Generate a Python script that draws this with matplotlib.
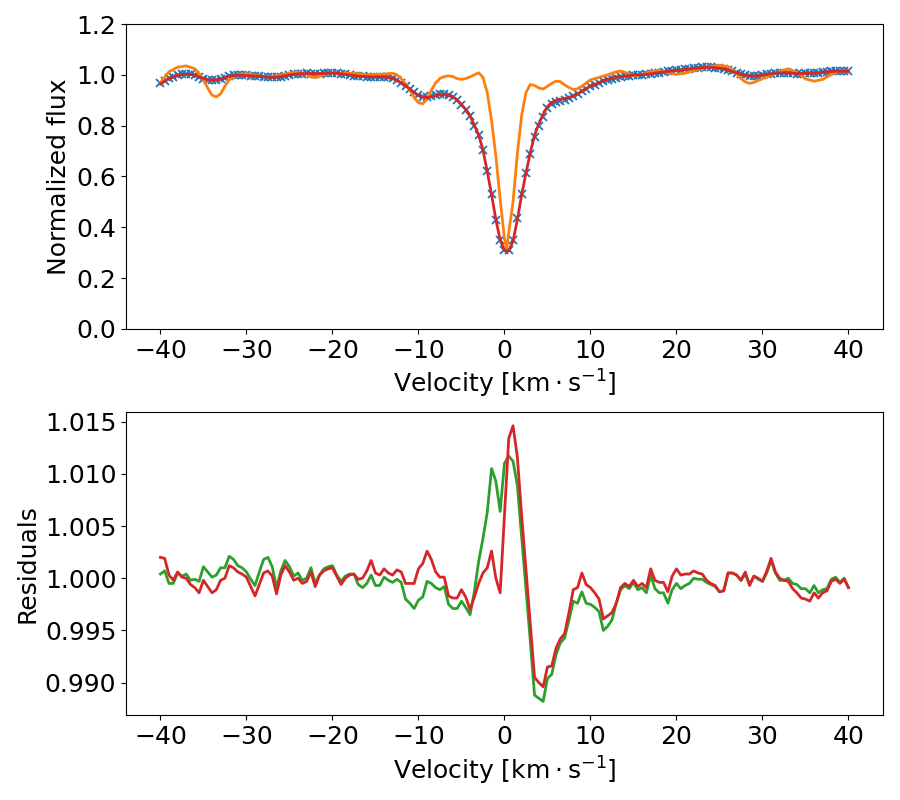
import numpy as np
import matplotlib
matplotlib.use("Agg")
import matplotlib.pyplot as plt

plt.rcParams['font.family'] = ['DejaVu Sans']
plt.rcParams['mathtext.fontset'] = 'dejavusans'
plt.rcParams['font.size'] = 18

# velocity grid, 0.5 km/s steps from -40 to 40
velocity = np.linspace(-40, 40, 161)

# observed profile (blue crosses), rows of 5 km/s
obs_flux = [
    0.966, 0.977, 0.986, 0.993, 0.998, 1.002, 1.004, 1.002, 0.998, 0.991,
    0.985, 0.980, 0.978, 0.979, 0.982, 0.989, 0.995, 0.998, 1.000, 0.999,
    0.998, 0.996, 0.995, 0.994, 0.993, 0.991, 0.990, 0.991, 0.993, 0.997,
    1.000, 1.003, 1.004, 1.005, 1.006, 1.005, 1.004, 1.005, 1.006, 1.007,
    1.008, 1.006, 1.004, 1.002, 1.000, 0.997, 0.995, 0.994, 0.993, 0.993,
    0.993, 0.993, 0.993, 0.990, 0.986, 0.978, 0.969, 0.957, 0.945, 0.931,
    0.919, 0.914, 0.912, 0.915, 0.920, 0.923, 0.923, 0.919, 0.913, 0.900,
    0.883, 0.862, 0.837, 0.800, 0.762, 0.705, 0.620, 0.530, 0.430, 0.350,
    0.310, 0.310, 0.350, 0.435, 0.530, 0.613, 0.690, 0.755, 0.800, 0.835,
    0.868, 0.885, 0.893, 0.898, 0.902, 0.908, 0.915, 0.925, 0.935, 0.945,
    0.954, 0.961, 0.968, 0.974, 0.980, 0.985, 0.989, 0.992, 0.995, 0.997,
    0.999, 1.000, 1.001, 1.002, 1.004, 1.007, 1.009, 1.011, 1.013, 1.015,
    1.017, 1.020, 1.022, 1.024, 1.026, 1.028, 1.029, 1.029, 1.029, 1.028,
    1.026, 1.023, 1.018, 1.013, 1.008, 1.002, 0.998, 0.995, 0.995, 0.997,
    0.999, 1.002, 1.005, 1.007, 1.009, 1.009, 1.008, 1.006, 1.005, 1.005,
    1.006, 1.006, 1.006, 1.008, 1.010, 1.012, 1.014, 1.015, 1.015, 1.015,
    1.014,
]

# fitted profile (red line)
fit_flux = [
    0.964, 0.975, 0.985, 0.992, 0.997, 1.000, 1.002, 1.001, 0.998, 0.992,
    0.986, 0.981, 0.979, 0.980, 0.983, 0.989, 0.994, 0.997, 0.999, 0.998,
    0.997, 0.996, 0.995, 0.994, 0.993, 0.991, 0.990, 0.991, 0.993, 0.996,
    0.999, 1.002, 1.004, 1.005, 1.005, 1.005, 1.005, 1.005, 1.005, 1.006,
    1.007, 1.006, 1.004, 1.002, 1.000, 0.997, 0.995, 0.994, 0.993, 0.992,
    0.992, 0.992, 0.992, 0.990, 0.985, 0.978, 0.968, 0.957, 0.944, 0.930,
    0.918, 0.913, 0.910, 0.913, 0.918, 0.921, 0.921, 0.919, 0.914, 0.901,
    0.884, 0.863, 0.839, 0.802, 0.763, 0.705, 0.619, 0.529, 0.430, 0.350,
    0.308, 0.306, 0.345, 0.430, 0.527, 0.613, 0.693, 0.762, 0.808, 0.844,
    0.875, 0.892, 0.899, 0.903, 0.907, 0.911, 0.916, 0.925, 0.935, 0.945,
    0.955, 0.962, 0.969, 0.976, 0.982, 0.987, 0.991, 0.993, 0.995, 0.997,
    0.999, 1.000, 1.001, 1.002, 1.004, 1.007, 1.009, 1.011, 1.013, 1.015,
    1.017, 1.019, 1.021, 1.023, 1.025, 1.027, 1.028, 1.029, 1.029, 1.028,
    1.026, 1.023, 1.018, 1.013, 1.008, 1.002, 0.998, 0.996, 0.995, 0.997,
    0.999, 1.001, 1.004, 1.006, 1.008, 1.008, 1.007, 1.006, 1.005, 1.005,
    1.006, 1.006, 1.006, 1.008, 1.010, 1.012, 1.013, 1.014, 1.014, 1.014,
    1.013,
]

# second profile (orange line), own velocity samples
orange_v = [-40, -39, -38, -37, -36, -35.5, -35, -34.5, -34, -33.5, -33, -32.5,
            -32, -31, -30, -29, -28, -27, -26, -25, -24, -23, -22.5, -22, -21,
            -20, -19, -18, -17, -16, -15, -14, -13, -12.5, -12, -11.5, -11,
            -10.5, -10, -9.5, -9, -8.5, -8, -7.5, -7, -6.5, -6, -5.5, -5, -4.5,
            -4, -3.5, -3, -2.5, -2, -1.5, -1, -0.5, 0, 0.25, 0.5, 1, 1.5, 2,
            2.5, 3, 3.5, 4, 4.5, 5, 5.5, 6, 6.5, 7, 7.5, 8, 8.5, 9, 10, 11, 12,
            13, 13.5, 14, 15, 16, 17, 18, 19, 20, 21, 22, 23, 24, 25, 26, 26.5,
            27, 27.5, 28, 28.5, 29, 30, 31, 32, 33, 34, 35, 36, 37, 38, 39, 40]
orange_flux = [0.969, 1.012, 1.030, 1.035, 1.024, 1.005, 0.980, 0.948, 0.920,
               0.913, 0.925, 0.955, 0.980, 1.002, 1.004, 0.998, 0.994, 0.993,
               0.998, 1.006, 1.011, 1.002, 0.992, 0.989, 1.000, 1.009, 1.005,
               1.006, 1.004, 1.000, 1.001, 1.003, 1.006, 1.000, 0.985, 0.965,
               0.940, 0.910, 0.890, 0.886, 0.905, 0.940, 0.968, 0.986, 0.993,
               0.996, 0.993, 0.985, 0.982, 0.985, 0.992, 1.000, 1.008, 0.990,
               0.930, 0.820, 0.680, 0.510, 0.355, 0.312, 0.380, 0.500, 0.690,
               0.840, 0.930, 0.962, 0.958, 0.948, 0.944, 0.955, 0.966, 0.975,
               0.973, 0.960, 0.950, 0.942, 0.945, 0.955, 0.980, 0.990, 1.000,
               1.012, 1.015, 1.010, 0.996, 1.002, 1.011, 1.017, 1.008, 1.002,
               1.006, 1.017, 1.025, 1.033, 1.037, 1.033, 1.020, 1.004, 0.985,
               0.972, 0.966, 0.970, 0.985, 0.998, 1.011, 1.024, 1.009, 0.984,
               0.975, 0.982, 1.002, 1.017, 1.011]

# residuals
resid_red = [
    1.0020, 1.0019, 1.0003, 0.9998, 1.0006, 1.0001, 1.0000, 0.9994, 0.9991, 0.9986,
    0.9998, 0.9992, 0.9986, 0.9989, 0.9998, 1.0000, 1.0012, 1.0010, 1.0006, 1.0004,
    1.0001, 0.9992, 0.9983, 0.9994, 1.0005, 1.0007, 1.0002, 0.9985, 1.0003, 1.0012,
    1.0006, 0.9998, 1.0000, 0.9995, 0.9997, 1.0006, 0.9992, 1.0003, 1.0007, 1.0009,
    1.0010, 1.0002, 0.9994, 1.0000, 1.0003, 1.0004, 0.9999, 1.0000, 1.0007, 1.0017,
    1.0005, 1.0003, 1.0009, 1.0005, 1.0003, 1.0008, 1.0006, 0.9995, 0.9995, 0.9995,
    1.0009, 1.0014, 1.0026, 1.0018, 1.0006, 1.0001, 1.0001, 0.9983, 0.9981, 0.9981,
    0.9989, 0.9982, 0.9970, 0.9982, 0.9995, 1.0005, 1.0010, 1.0026, 1.0000, 0.9986,
    1.0060, 1.0134, 1.0146, 1.0116, 1.0060, 1.0008, 0.9955, 0.9905, 0.9900, 0.9896,
    0.9915, 0.9916, 0.9933, 0.9942, 0.9947, 0.9967, 0.9989, 0.9991, 1.0005, 0.9994,
    0.9991, 0.9986, 0.9980, 0.9961, 0.9964, 0.9967, 0.9976, 0.9991, 0.9995, 0.9992,
    0.9998, 0.9992, 0.9995, 0.9991, 1.0009, 0.9998, 0.9996, 0.9996, 0.9987, 1.0002,
    1.0009, 1.0003, 1.0004, 1.0004, 1.0007, 1.0005, 1.0004, 0.9998, 0.9995, 0.9993,
    0.9987, 0.9988, 1.0005, 1.0005, 1.0003, 0.9998, 1.0006, 0.9993, 1.0002, 1.0000,
    0.9997, 1.0007, 1.0019, 1.0006, 1.0000, 0.9998, 0.9997, 0.9990, 0.9986, 0.9981,
    0.9980, 0.9978, 0.9986, 0.9981, 0.9986, 0.9988, 0.9997, 0.9999, 0.9995, 0.9999,
    0.9991,
]
resid_green = [
    1.0004, 1.0007, 0.9995, 0.9995, 1.0005, 1.0002, 1.0004, 0.9998, 0.9999, 0.9997,
    1.0011, 1.0006, 1.0001, 1.0003, 1.0010, 1.0010, 1.0021, 1.0018, 1.0012, 1.0010,
    1.0006, 0.9999, 0.9993, 1.0006, 1.0018, 1.0020, 1.0011, 0.9991, 1.0007, 1.0017,
    1.0011, 1.0002, 1.0005, 0.9998, 1.0000, 1.0010, 0.9995, 1.0003, 1.0009, 1.0011,
    1.0012, 1.0003, 0.9997, 1.0002, 1.0004, 1.0004, 0.9994, 0.9991, 0.9995, 1.0003,
    0.9993, 0.9993, 1.0001, 0.9998, 0.9996, 0.9999, 0.9996, 0.9980, 0.9976, 0.9971,
    0.9979, 0.9982, 0.9997, 0.9995, 0.9991, 0.9989, 0.9992, 0.9975, 0.9971, 0.9971,
    0.9978, 0.9972, 0.9965, 0.9987, 1.0016, 1.0038, 1.0063, 1.0105, 1.0093, 1.0064,
    1.0110, 1.0117, 1.0112, 1.0089, 1.0040, 0.9990, 0.9940, 0.9888, 0.9885, 0.9882,
    0.9904, 0.9908, 0.9927, 0.9938, 0.9943, 0.9960, 0.9978, 0.9976, 0.9987, 0.9976,
    0.9975, 0.9972, 0.9968, 0.9950, 0.9954, 0.9960, 0.9976, 0.9989, 0.9993, 0.9990,
    0.9996, 0.9989, 0.9991, 0.9986, 1.0003, 0.9990, 0.9986, 0.9986, 0.9976, 0.9989,
    0.9995, 0.9990, 0.9993, 0.9995, 1.0000, 0.9999, 0.9999, 0.9996, 0.9994, 0.9992,
    0.9987, 0.9988, 1.0005, 1.0005, 1.0003, 0.9998, 1.0004, 0.9994, 1.0002, 0.9999,
    0.9997, 1.0005, 1.0017, 1.0005, 0.9998, 0.9998, 1.0000, 0.9995, 0.9994, 0.9990,
    0.9990, 0.9986, 0.9993, 0.9986, 0.9989, 0.9990, 0.9999, 1.0001, 0.9996, 1.0000,
    0.9991,
]

xlabel = r'Velocity [$\mathrm{km \cdot s^{-1}}$]'

fig = plt.figure(figsize=(9, 8), dpi=100)
ax1 = fig.add_axes([0.14, 0.589, 0.841, 0.381])
ax2 = fig.add_axes([0.14, 0.106, 0.841, 0.379])

ax1.plot(velocity, obs_flux, 'x', color='tab:blue', ms=6, mew=1.3)
ax1.plot(orange_v, orange_flux, color='tab:orange', lw=2)
ax1.plot(velocity, fit_flux, color='tab:red', lw=2)
ax1.set_ylim(0, 1.2)
ax1.set_xlabel(xlabel)
ax1.set_ylabel('Normalized flux')

ax2.plot(velocity, resid_green, color='tab:green', lw=2)
ax2.plot(velocity, resid_red, color='tab:red', lw=2)
ax2.set_xlabel(xlabel)
ax2.set_ylabel('Residuals')

fig.savefig('out.png', dpi=100)
